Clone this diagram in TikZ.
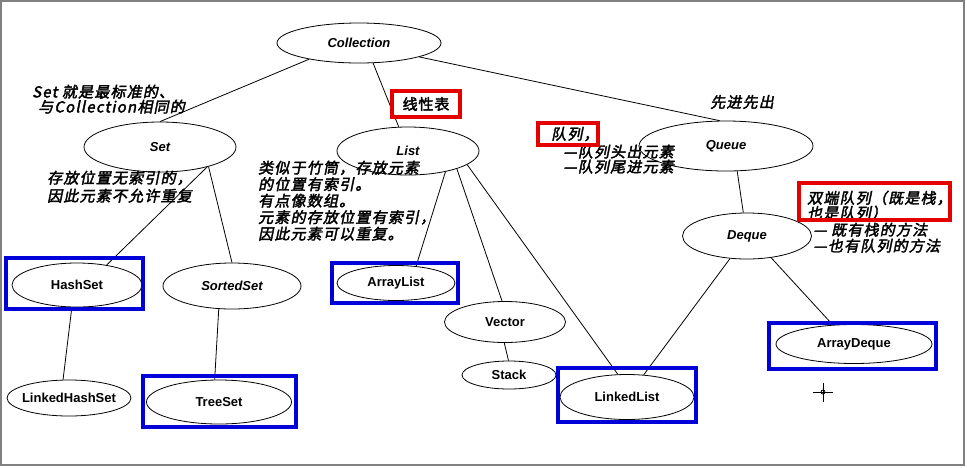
\documentclass[tikz,border=0pt]{standalone}
\usepackage{fontspec}
\setmainfont{Liberation Sans}
\newfontfamily\cjk[FakeSlant=0.2,FakeBold=2.5,LetterSpace=8]{Noto Sans CJK SC}
\newfontfamily\cjkup[FakeBold=2.5,LetterSpace=6]{Noto Sans CJK SC}
\usetikzlibrary{shapes.geometric}

\tikzset{
  cls/.style={draw, ellipse, inner sep=0pt, line width=0.8pt, font=\fontsize{13}{15}\selectfont\bfseries},
  iface/.style={cls, font=\fontsize{13}{15}\selectfont\bfseries\itshape},
  note/.style={inner sep=0pt, align=left, anchor=north west, font=\fontsize{15}{16.5}\selectfont\cjk},
  bluebox/.style={draw=blue!85!black, line width=3.5pt},
  redbox/.style={draw=red!90!black, line width=3.5pt},
}

\begin{document}
\begin{tikzpicture}[x=1pt,y=-1pt]
      \useasboundingbox (0,0) rectangle (967,467);
      \draw[gray, line width=2.5pt] (1,1) rectangle (964,465);
      \draw
        (359,43) node[iface, minimum width=164pt, minimum height=40pt] (coll){Collection}
        (160,147) node[iface, minimum width=152pt, minimum height=50pt] (set){Set}
        (408,151) node[iface, minimum width=142pt, minimum height=48pt] (list){List}
        (726,146) node[iface, minimum width=174pt, minimum height=50pt] (queue){Queue}
        (747,236) node[iface, minimum width=129pt, minimum height=46pt] (deque){Deque}
        (77,285) node[cls, minimum width=130pt, minimum height=44pt] (hashset){HashSet}
        (232,286) node[iface, minimum width=138pt, minimum height=46pt] (sortedset){SortedSet}
        (69,398) node[cls, inner xsep=-4pt, minimum width=124pt, minimum height=36pt] (linkedhashset){LinkedHashSet}
        (219,402) node[cls, minimum width=145pt, minimum height=44pt] (treeset){TreeSet}
        (396,283) node[cls, minimum width=118pt, minimum height=35pt] (arraylist){ArrayList}
        (505,322) node[cls, minimum width=121pt, minimum height=41pt] (vector){Vector}
        (509,375) node[cls, minimum width=94pt, minimum height=28pt] (stack){Stack}
        (627,397) node[cls, minimum width=134pt, minimum height=45pt] (linkedlist){LinkedList}
        (854,344) node[cls, minimum width=156pt, minimum height=39pt] (arraydeque){ArrayDeque};
      \begin{scope}[-, line width=0.8pt]
        \draw (coll.198) to (set.90);
        \draw (coll.305) to (list.111);
        \draw (coll.347) to (queue.104);
        \draw (set.337) to (hashset.34);
        \draw (set.338) to (sortedset.90);
        \draw (hashset.257) to (linkedhashset.108);
        \draw (sortedset.240) to (treeset.101);
        \draw (list.331) to (arraylist.40);
        \draw (list.340) to (vector.98);
        \draw (list.347) to (linkedlist.112);
        \draw (vector.268) to (stack.92);
        \draw (queue.294) to (deque.99);
        \draw (deque.233) to (linkedlist.53);
        \draw (deque.318) to (arraydeque.138);
      \end{scope}
      % notes
      \node[note, font=\fontsize{15}{15}\selectfont\cjk] (setnote) at (32,84.5)
        {Set 就是最标准的、\\\hspace*{6pt}与Collection相同的};
      \node[note, font=\fontsize{15}{18}\selectfont\cjk] (setidx) at (47,170.5)
        {存放位置无索引的，\\因此元素不允许重复};
      \node[note] (listnote) at (258,160.5)
        {类似于竹筒，存放元素\\的位置有索引。\\有点像数组。\\元素的存放位置有索引，\\因此元素可以重复。};
      \node[inner sep=0pt, font=\fontsize{15}{15}\selectfont\cjkup] (linear) at (426,104) {线性表};
      \node[note, anchor=west] (queuelabel) at (551,134) {队列，};
      \node[note, font=\fontsize{15}{15}\selectfont\cjk] (queuenote) at (563,144.5)
        {—队列头出元素\\—队列尾进元素};
      \node[note, anchor=west] (fifo) at (710,102) {先进先出};
      \node[note, font=\fontsize{15}{15}\selectfont\cjk] (dequelabel) at (807,190.5)
        {双端队列（既是栈，\\也是队列）};
      \node[note, font=\fontsize{15}{16}\selectfont\cjk] (dequenote) at (813,222.5)
        {— 既有栈的方法\\—也有队列的方法};
      % highlight boxes
      \draw[redbox] (392,91) rectangle (460,117);
      \draw[redbox] (538,123) rectangle (598,145);
      \draw[redbox] (799,183) rectangle (950,220);
      \draw[bluebox] (6,258) rectangle (143,309);
      \draw[bluebox] (143,376) rectangle (296,427);
      \draw[bluebox] (332,263) rectangle (458,303);
      \draw[bluebox] (558,368) rectangle (696,422);
      \draw[bluebox] (769,323) rectangle (936,369);
      % cursor
      \draw[line width=0.8pt] (813,392) -- (833,392) (823,383) -- (823,402);
      \draw[line width=0.8pt] (823,392) circle[radius=2pt];
    \end{tikzpicture}
\end{document}
